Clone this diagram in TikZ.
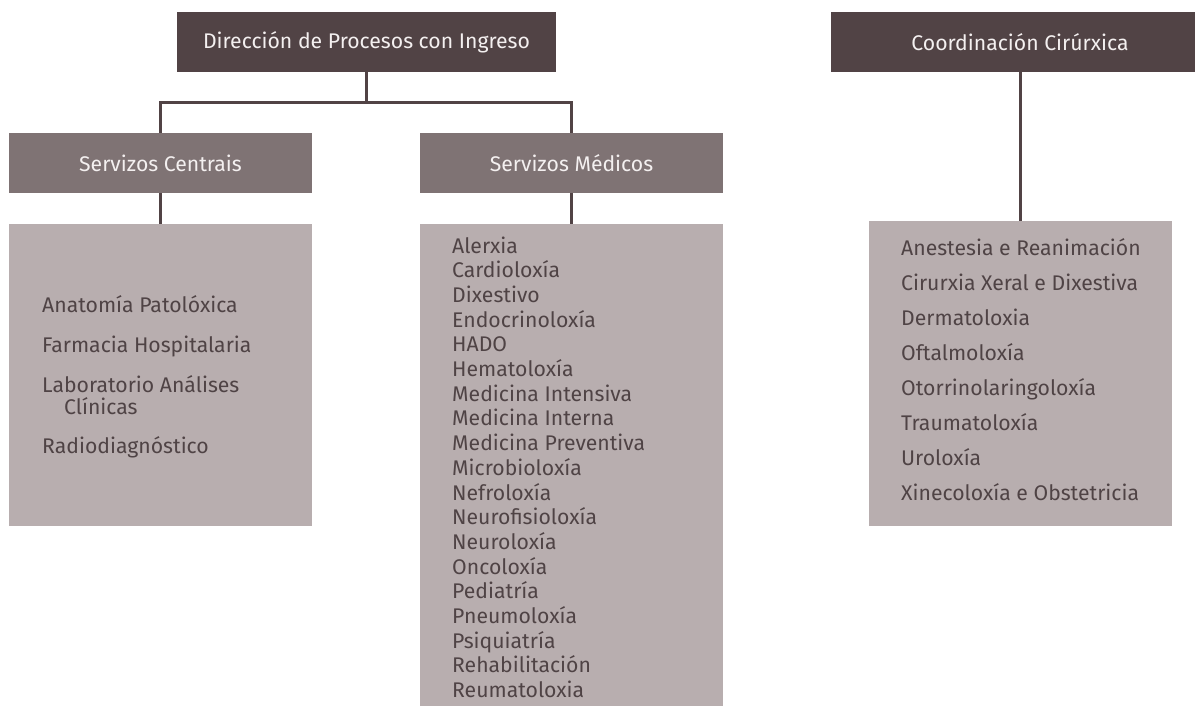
\documentclass[tikz,border=0pt]{standalone}
\usepackage{fontspec}
\setmainfont{Fira Sans}
\definecolor{darkbox}{HTML}{514345}
\definecolor{midbox}{HTML}{7F7374}
\definecolor{lightbox}{HTML}{B8AEAF}
\definecolor{itemtext}{HTML}{4F4345}
\definecolor{headtext}{HTML}{F4F0F0}

\begin{document}
\begin{tikzpicture}
  [x=1pt,y=-1pt,
   head/.style={rectangle,fill=darkbox,text=headtext,minimum width=379pt,minimum height=60pt,inner sep=0pt,font=\fontsize{21.2}{21.2}\selectfont},
   sub/.style={rectangle,fill=midbox,text=headtext,minimum width=303pt,minimum height=60pt,inner sep=0pt,font=\fontsize{21.2}{21.2}\selectfont},
   list/.style={rectangle,fill=lightbox,minimum width=303pt,inner sep=0pt},
   item/.style={anchor=base west,inner sep=0pt,text=itemtext,font=\fontsize{21.2}{21.2}\selectfont},
   link/.style={draw=darkbox,line width=3pt}]
  \clip (0,0) rectangle (1195,705);
  \fill[white] (0,0) rectangle (1195,705);
  \node[head] (dir) at (366.5,42) {Dirección de Procesos con Ingreso};
  \node[head] (coord) at (1020,42) {Coordinación Cirúrxica};
  \node[sub] (cent) at (160.5,163) {Servizos Centrais};
  \node[sub] (med) at (571.5,163) {Servizos Médicos};
  \node[list,minimum height=302pt] (centlist) at (160.5,375) {};
  \node[list,minimum height=486pt] (medlist) at (571.5,467) {};
  \node[list,minimum height=305pt] (cirlist) at (1020,373.5) {};
  \coordinate (split) at (366.5,102);
  \draw[link] (dir.south) -- (split);
  \draw[link] (cent.north) |- (split) -| (med.north);
  \foreach \from/\to in {cent/centlist,med/medlist,coord/cirlist}
    \draw[link] (\from.south) -- (\to.north);
  % servizos centrais
  \node[item] (c1) at (42,312) {Anatomía Patolóxica};
  \node[item] (c2) at (42,352) {Farmacia Hospitalaria};
  \node[item] (c3) at (42,392) {Laboratorio Análises};
  \node[item] (c4) at (64,414) {Clínicas};
  \node[item] (c5) at (42,453) {Radiodiagnóstico};
  % servizos medicos
  \foreach \txt [count=\i] in {Alerxia,Cardioloxía,Dixestivo,Endocrinoloxía,HADO,
      Hematoloxía,Medicina Intensiva,Medicina Interna,Medicina Preventiva,
      Microbioloxía,Nefroloxía,Neurofisioloxía,Neuroloxía,Oncoloxía,Pediatría,
      Pneumoloxía,Psiquiatría,Rehabilitación,Reumatoloxia}
    \node[item] (m\i) at (452,{228.3+24.7*\i}) {\txt};
  % coordinacion cirurxica
  \foreach \txt [count=\i] in {Anestesia e Reanimación,Cirurxia Xeral e Dixestiva,
      Dermatoloxia,Oftalmoloxía,Otorrinolaringoloxía,Traumatoloxía,Uroloxía,
      Xinecoloxía e Obstetricia}
    \node[item] (x\i) at (901,{220+35*\i}) {\txt};
\end{tikzpicture}
\end{document}
